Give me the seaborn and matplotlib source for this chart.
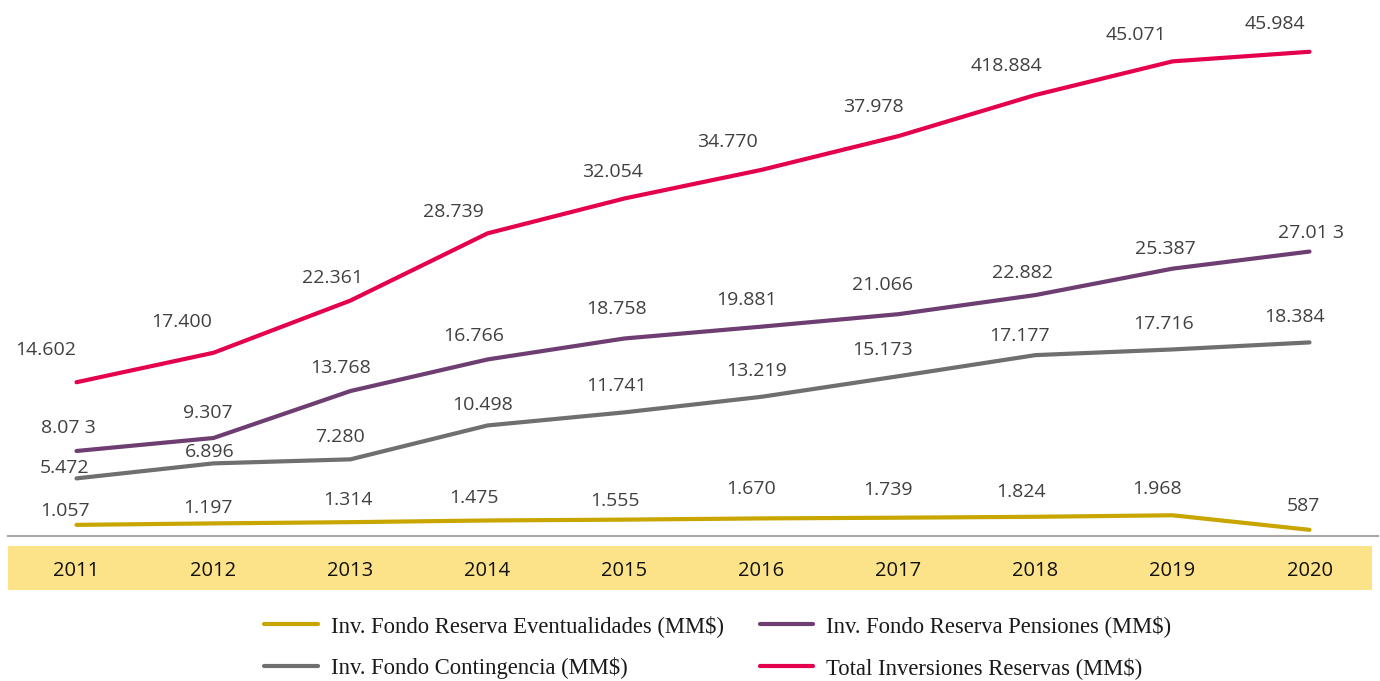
import pandas as pd
import matplotlib.pyplot as plt
import seaborn as sb
from matplotlib.lines import Line2D
from matplotlib.patches import Rectangle

# datos (MM$)
years = [2011, 2012, 2013, 2014, 2015, 2016, 2017, 2018, 2019, 2020]
eventualidades = [1.057, 1.197, 1.314, 1.475, 1.555, 1.670, 1.739, 1.824, 1.968, 0.587]
contingencia = [5.472, 6.896, 7.280, 10.498, 11.741, 13.219, 15.173, 17.177, 17.716, 18.384]
pensiones = [8.073, 9.307, 13.768, 16.766, 18.758, 19.881, 21.066, 22.882, 25.387, 27.013]
total = [14.602, 17.400, 22.361, 28.739, 32.054, 34.770, 37.978, 41.884, 45.071, 45.984]

# etiquetas tal como aparecen en el grafico
lab_event = ["1.057", "1.197", "1.314", "1.475", "1.555", "1.670", "1.739", "1.824", "1.968", "587"]
lab_cont = ["5.472", "6.896", "7.280", "10.498", "11.741", "13.219", "15.173", "17.177", "17.716", "18.384"]
lab_pens = ["8.07 3", "9.307", "13.768", "16.766", "18.758", "19.881", "21.066", "22.882", "25.387", "27.01 3"]
lab_total = ["14.602", "17.400", "22.361", "28.739", "32.054", "34.770", "37.978", "418.884", "45.071", "45.984"]

names = ["Inv. Fondo Reserva Eventualidades (MM$)",
         "Inv. Fondo Contingencia (MM$)",
         "Inv. Fondo Reserva Pensiones (MM$)",
         "Total Inversiones Reservas (MM$)"]
colores = ["#C9A500", "#6F6F6F", "#6E3D72", "#E5004F"]

# desplazamiento de cada etiqueta respecto al punto (pixeles, y hacia arriba)
off_event = [(-11, 16), (-6, 17), (-3, 24), (-14, 24), (-10, 21), (-10, 31), (-11, 30), (-14, 27), (-15, 28), (-6, 26)]
off_cont = [(-12, 12), (-4, 13), (-10, 24), (-5, 22), (-8, 28), (-5, 28), (-16, 28), (-16, 21), (-9, 27), (-15, 27)]
off_pens = [(-8, 25), (-6, 27), (-10, 25), (-14, 25), (-8, 31), (-15, 29), (-16, 31), (-13, 24), (-7, 22), (1, 21)]
off_total = [(-31, 34), (-32, 33), (-18, 25), (-34, 23), (-12, 28), (-34, 30), (-25, 31), (-29, 31), (-36, 28), (-35, 30)]

series = [eventualidades, contingencia, pensiones, total]
etiquetas = [lab_event, lab_cont, lab_pens, lab_total]
offsets = [off_event, off_cont, off_pens, off_total]

df = pd.DataFrame({
    "year": years * 4,
    "valor": eventualidades + contingencia + pensiones + total,
    "serie": [n for n in names for _ in years],
})

sb.set_style("white")
plt.rcParams["font.family"] = ["Open Sans", "DejaVu Sans"]

W, H = 1380, 681
fig = plt.figure(figsize=(W / 100, H / 100), dpi=100)
ax = fig.add_axes([8 / W, (H - 536) / H, 1370 / W, 536 / H])
ax.set_facecolor("none")

sb.lineplot(data=df, x="year", y="valor", hue="serie", hue_order=names,
            palette=dict(zip(names, colores)), linewidth=3,
            solid_capstyle="round", legend=False, ax=ax)

ax.set_xlim(2010.5, 2020.5)
ax.set_ylim(0, 50.9)
ax.set_xticks([])
ax.set_yticks([])
ax.set_xlabel("")
ax.set_ylabel("")
for s in ["top", "left", "right"]:
    ax.spines[s].set_visible(False)
ax.spines["bottom"].set_color("#A8A8A8")
ax.spines["bottom"].set_linewidth(1.5)

# etiquetas de valores
for vals, labs, offs in zip(series, etiquetas, offsets):
    for x, y, t, (dx, dy) in zip(years, vals, labs, offs):
        ax.annotate(t, (x, y), xytext=(dx, dy), textcoords="offset pixels",
                    ha="center", va="center_baseline", fontsize=14, color="#404040")

# banda amarilla con los anos
fig.patches.append(Rectangle((8 / W, 1 - 590 / H), 1364 / W, 44 / H,
                             transform=fig.transFigure, facecolor="#FCE289",
                             edgecolor="none", zorder=-1))
for x in years:
    ax.text(x, -(568 - 536) / 536, str(x), transform=ax.get_xaxis_transform(),
            ha="center", va="center_baseline", fontsize=14.5, color="#111111")

handles = [Line2D([], [], color=c, lw=3) for c in colores]
fig.legend(handles, names, ncol=2, loc="center", bbox_to_anchor=(718 / W, 1 - 647 / H),
           frameon=False, prop={"family": "Liberation Serif", "size": 16.3},
           handlelength=2.35, handletextpad=0.58, columnspacing=1.6, labelspacing=0.92,
           labelcolor="#1A1A1A")

fig.savefig("out.png", dpi=100)
